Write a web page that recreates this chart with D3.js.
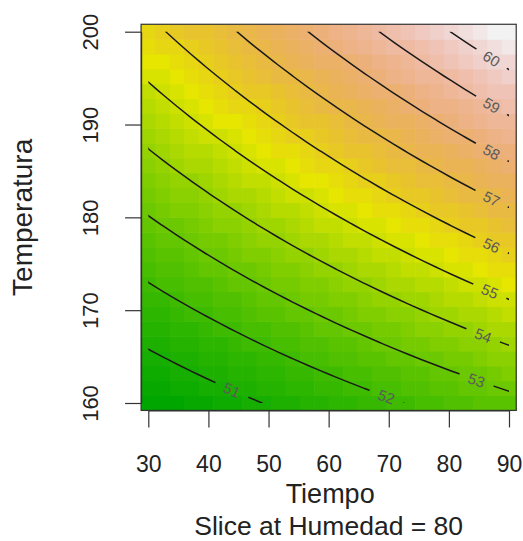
<!DOCTYPE html>
<html><head><meta charset="utf-8">
<script src="https://cdn.jsdelivr.net/npm/d3@7"></script>
<style>
body{margin:0;background:#fff}
svg{display:block}
text{font-family:"Liberation Sans",Arial,Helvetica,sans-serif}
</style>
</head><body>
<svg id="chart" width="523" height="541"></svg>
<script>
// ---------------- data ----------------
const tiempoTicks = [30, 40, 50, 60, 70, 80, 90];
const temperaturaTicks = [160, 170, 180, 190, 200];
const tiempoRange = [30, 90];
const temperaturaRange = [160, 200];
const gridPoints = 26;
const contourLevels = [51, 52, 53, 54, 55, 56, 57, 58, 59, 60];
// Tiempo value at which each contour label sits
const labelTiempo = [43.9, 69.6, 84.6, 85.7, 86.8, 87.1, 87.1, 87.1, 87.1, 87.1];
// fitted response surface, coded units x1=(Tiempo-60)/30, x2=(Temperatura-180)/20, slice at Humedad = 80
const coefNames = ["(Intercept)", "x1", "x2", "x1:x2"];
const coefValues = [54.88, 1.905, 3.41, 0.63];
const xTitle = "Tiempo";
const yTitle = "Temperatura";
const sliceTitle = "Slice at Humedad = 80";

// ---------------- helpers ----------------
function surface(t, temp) {
  const x1 = (t - 60) / 30, x2 = (temp - 180) / 20;
  return coefValues[0] + coefValues[1] * x1 + coefValues[2] * x2 + coefValues[3] * x1 * x2;
}
function hsv(h, s, v) {
  const i = Math.floor(h * 6), f = h * 6 - i;
  const p = v * (1 - s), q = v * (1 - s * f), t = v * (1 - s * (1 - f));
  let r, g, b;
  switch (((i % 6) + 6) % 6) {
    case 0: r = v; g = t; b = p; break;
    case 1: r = q; g = v; b = p; break;
    case 2: r = p; g = v; b = t; break;
    case 3: r = p; g = q; b = v; break;
    case 4: r = t; g = p; b = v; break;
    default: r = v; g = p; b = q;
  }
  return d3.rgb(r * 255, g * 255, b * 255).formatHex();
}
function terrainColors(n) {
  const k = Math.floor(n / 2), out = [];
  for (let i = 0; i < k; i++) {
    const t = k > 1 ? i / (k - 1) : 0;
    out.push(hsv(4 / 12 + (2 / 12 - 4 / 12) * t, 1, 0.65 + 0.25 * t));
  }
  const m = n - k + 1;
  for (let i = 1; i < m; i++) {
    const t = i / (m - 1);
    out.push(hsv((2 / 12) * (1 - t), 1 - t, 0.9 + 0.05 * t));
  }
  return out;
}

// ---------------- layout ----------------
const svg = d3.select("#chart");
const x = d3.scaleLinear().domain(tiempoRange).range([148.3, 509]);
const y = d3.scaleLinear().domain(temperaturaRange).range([403, 31.7]);
const stepT = (tiempoRange[1] - tiempoRange[0]) / (gridPoints - 1);
const stepY = (temperaturaRange[1] - temperaturaRange[0]) / (gridPoints - 1);

// grid values (row 0 = lowest Temperatura)
const gridT = d3.range(gridPoints).map(i => tiempoRange[0] + i * stepT);
const gridY = d3.range(gridPoints).map(j => temperaturaRange[0] + j * stepY);
const values = [];
gridY.forEach(ty => gridT.forEach(tt => values.push(surface(tt, ty))));
const color = d3.scaleQuantize().domain(d3.extent(values)).range(terrainColors(50));

// image cells
const cells = [];
gridY.forEach((ty, j) => gridT.forEach((tt, i) => cells.push({t: tt, temp: ty, z: values[j * gridPoints + i]})));
svg.append("g").selectAll("rect").data(cells).join("rect")
  .attr("x", d => x(d.t - stepT / 2))
  .attr("y", d => y(d.temp + stepY / 2))
  .attr("width", d => x(d.t + stepT / 2) - x(d.t - stepT / 2) + 0.6)
  .attr("height", d => y(d.temp - stepY / 2) - y(d.temp + stepY / 2) + 0.6)
  .attr("fill", d => color(d.z));

// contours
const contours = d3.contours().size([gridPoints, gridPoints]).thresholds(contourLevels)(values);
const proj = d3.geoTransform({
  point: function (px, py) {
    this.stream.point(x(tiempoRange[0] + (px - 0.5) * stepT), y(temperaturaRange[0] + (py - 0.5) * stepY));
  }
});
const path = d3.geoPath(proj);

const defs = svg.append("defs");
defs.append("clipPath").attr("id", "dataClip").append("rect")
  .attr("x", x(tiempoRange[0])).attr("y", y(temperaturaRange[1]))
  .attr("width", x(tiempoRange[1]) - x(tiempoRange[0]))
  .attr("height", y(temperaturaRange[0]) - y(temperaturaRange[1]));

// label positions
function solveTemp(t, level) {
  let lo = temperaturaRange[0] - 20, hi = temperaturaRange[1] + 20;
  for (let k = 0; k < 60; k++) {
    const mid = (lo + hi) / 2;
    if (surface(t, mid) < level) lo = mid; else hi = mid;
  }
  return (lo + hi) / 2;
}
const labels = contourLevels.map((lv, k) => {
  const t = labelTiempo[k];
  const px = x(t), py = y(solveTemp(t, lv));
  const ax = x(t - 0.5), ay = y(solveTemp(t - 0.5, lv));
  const bx = x(t + 0.5), by = y(solveTemp(t + 0.5, lv));
  const ang = Math.atan2(by - ay, bx - ax) * 180 / Math.PI;
  return {level: lv, px, py, ang};
});

const mask = defs.append("mask").attr("id", "labelMask").attr("maskUnits", "userSpaceOnUse")
  .attr("x", 0).attr("y", 0).attr("width", 523).attr("height", 541);
mask.append("rect").attr("x", 0).attr("y", 0).attr("width", 523).attr("height", 541).attr("fill", "#fff");
mask.selectAll("rect.gap").data(labels).join("rect").attr("class", "gap")
  .attr("x", -18).attr("y", -9).attr("width", 36).attr("height", 18).attr("fill", "#000")
  .attr("transform", d => `translate(${d.px},${d.py}) rotate(${d.ang})`);

svg.append("g").attr("clip-path", "url(#dataClip)")
  .append("g").attr("mask", "url(#labelMask)")
  .selectAll("path").data(contours).join("path")
  .attr("d", path)
  .attr("fill", "none")
  .attr("stroke", "#1a1a1a")
  .attr("stroke-width", 1.5);

svg.append("g").selectAll("text").data(labels).join("text")
  .attr("transform", d => `translate(${d.px},${d.py}) rotate(${d.ang})`)
  .attr("text-anchor", "middle")
  .attr("dy", "0.36em")
  .attr("font-size", 15)
  .attr("fill", "#5a5a5a")
  .text(d => d.level);

// box
const bx0 = x(tiempoRange[0] - stepT / 2), bx1 = x(tiempoRange[1] + stepT / 2);
const by0 = y(temperaturaRange[1] + stepY / 2), by1 = y(temperaturaRange[0] - stepY / 2);
svg.append("rect").attr("x", bx0).attr("y", by0).attr("width", bx1 - bx0).attr("height", by1 - by0)
  .attr("fill", "none").attr("stroke", "#333").attr("stroke-width", 1.2);

// axes
const xAxis = svg.append("g").attr("transform", `translate(0,${by1})`)
  .call(d3.axisBottom(x).tickValues(tiempoTicks).tickSize(17).tickSizeOuter(0));
xAxis.selectAll("text").attr("y", 61.5).attr("dy", 0).attr("font-size", 23).attr("fill", "#222")
  .style("font-family", '"Liberation Sans",Arial,sans-serif');
xAxis.selectAll("line,path").attr("stroke", "#333").attr("stroke-width", 1.2);

const yAxis = svg.append("g").attr("transform", `translate(${bx0},0)`)
  .call(d3.axisLeft(y).tickValues(temperaturaTicks).tickSize(16).tickSizeOuter(0));
yAxis.selectAll("text").attr("x", null).attr("dy", 0).attr("text-anchor", "middle")
  .attr("transform", "translate(-43,0) rotate(-90)")
  .attr("font-size", 22).attr("fill", "#222")
  .style("font-family", '"Liberation Sans",Arial,sans-serif');
yAxis.selectAll("line,path").attr("stroke", "#333").attr("stroke-width", 1.2);

// titles
svg.append("text").attr("x", x(60) + 1.5).attr("y", 502.5).attr("text-anchor", "middle")
  .attr("font-size", 27).attr("fill", "#222").text(xTitle);
svg.append("text").attr("x", x(60)).attr("y", 535).attr("text-anchor", "middle")
  .attr("font-size", 26.5).attr("fill", "#222").text(sliceTitle);
svg.append("text").attr("transform", `translate(31.5,${(by0 + by1) / 2}) rotate(-90)`)
  .attr("text-anchor", "middle").attr("font-size", 28).attr("fill", "#222").text(yTitle);
</script>
</body></html>
